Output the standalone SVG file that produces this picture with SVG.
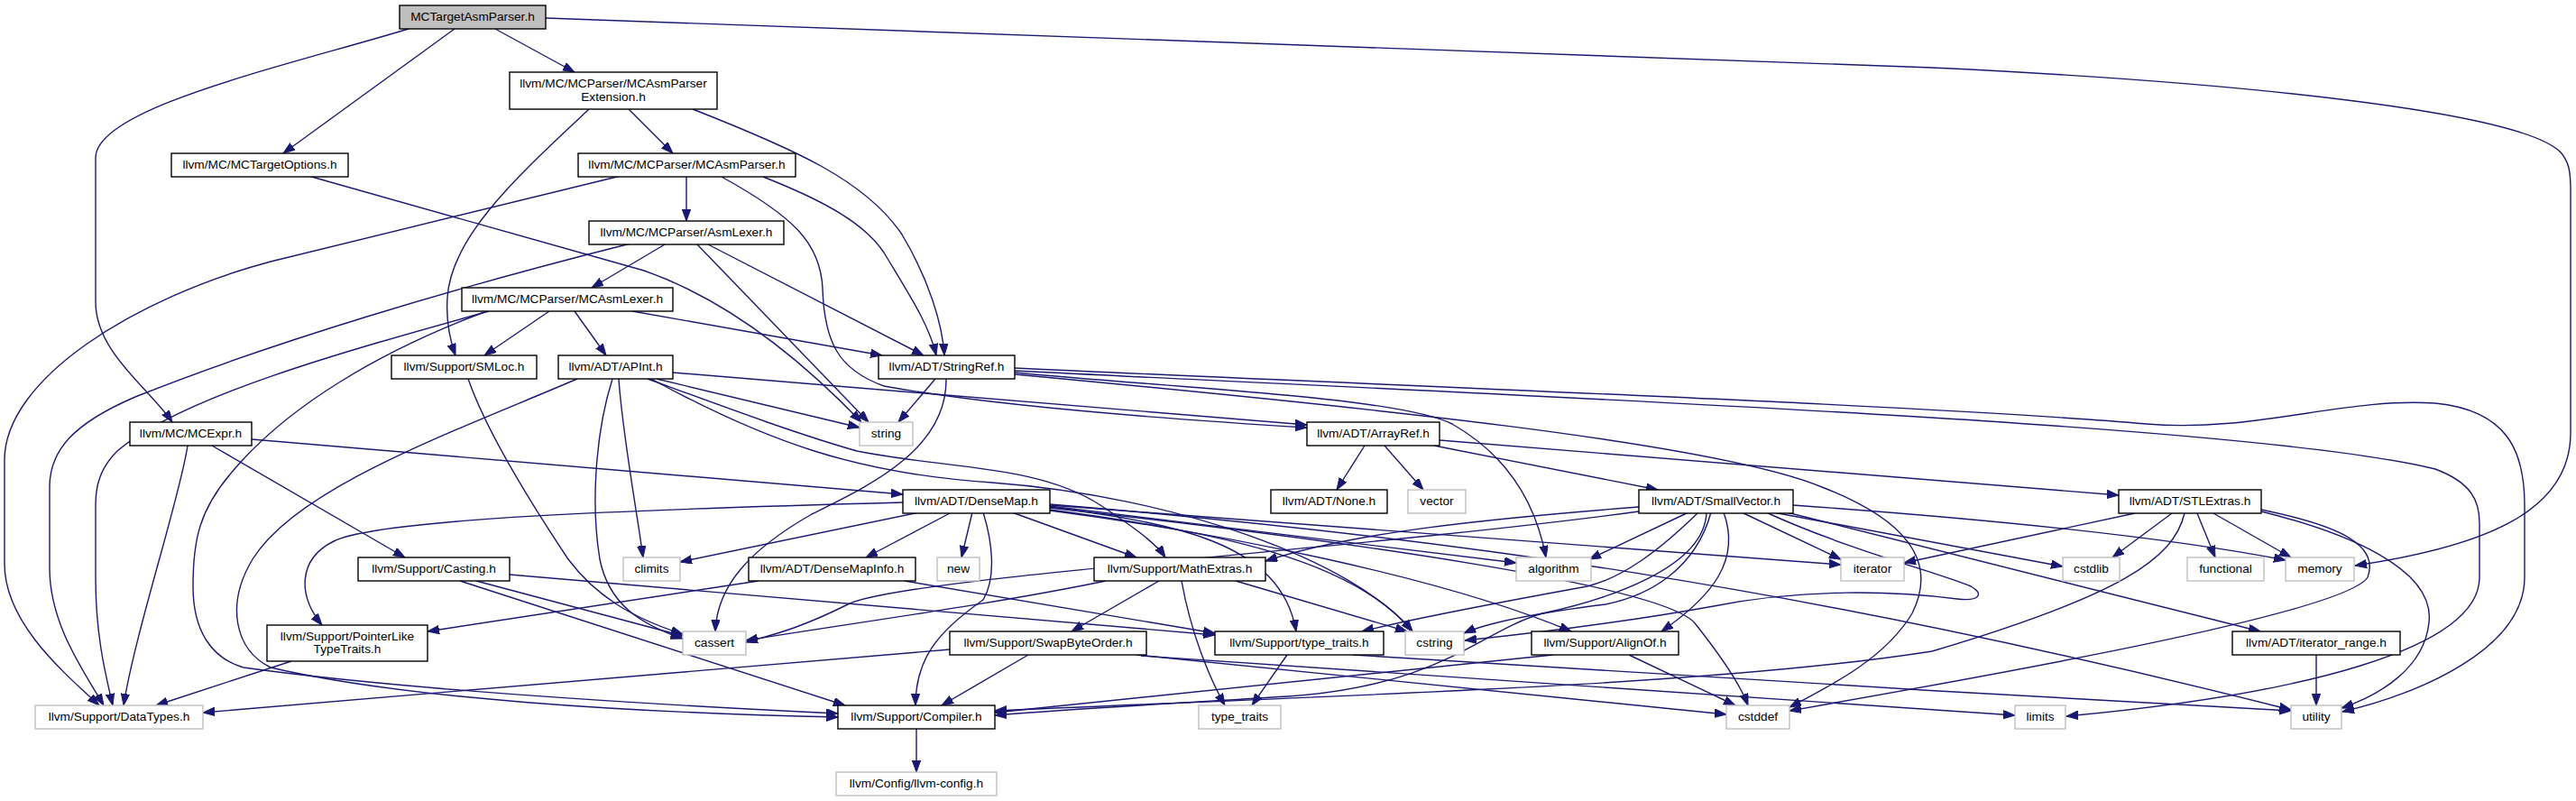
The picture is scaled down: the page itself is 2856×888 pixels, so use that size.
<svg xmlns="http://www.w3.org/2000/svg" width="2856" height="888" viewBox="0 0 2856 888">
<style>
.n rect{fill:#fff;stroke:#000;stroke-width:1.4}
.g rect{fill:#fff;stroke:#bfbfbf;stroke-width:1.4}
.r rect{fill:#bfbfbf;stroke:#000;stroke-width:1.4}
text{font-family:"Liberation Sans",Arial,sans-serif;font-size:13.7px;text-anchor:middle;fill:#000}
#edges path{fill:none;stroke:#191970;stroke-width:1.4;marker-end:url(#a)}
</style>
<defs>
<marker id="a" markerUnits="userSpaceOnUse" markerWidth="14" markerHeight="10" refX="13" refY="4.7" orient="auto">
<path d="M0,0 L13,4.7 L0,9.4 z" fill="#191970" stroke="#191970" stroke-width="1"/>
</marker>
</defs>
<rect width="2856" height="888" fill="#fff"/>
<g id="edges">
<path d="M549,32 L637,80"/>
<path d="M504,32 L314,170"/>
<path d="M453,32 C310,75 106,120 106,175 L106,335 C106,390 165,430 191,468"/>
<path d="M605,20 L2142,75 C2500,92 2800,125 2840,170 C2848,180 2850,190 2850,210 L2850,480 C2850,565 2760,605 2611,627"/>
<path d="M697,121 L746,170"/>
<path d="M653,121 C580,190 500,260 496,330 C494,360 500,380 505,394"/>
<path d="M768,121 C880,165 960,200 1000,260 C1030,310 1045,360 1047,394"/>
<path d="M342,195 L714,300 C800,330 880,390 955,468"/>
<path d="M761,196 L761,245"/>
<path d="M688,195 L300,290 C150,330 5,420 5,510 L5,625 C5,690 70,745 110,782"/>
<path d="M846,196 C920,225 960,250 980,280 C1010,330 1030,360 1038,394"/>
<path d="M800,196 C880,240 910,270 912,320 C914,380 930,410 980,428 C1100,450 1300,465 1449,474"/>
<path d="M737,271 L656,319"/>
<path d="M699,270 C500,320 300,380 150,440 C80,470 55,500 55,540 L55,630 C55,690 90,740 115,782"/>
<path d="M773,271 L963,468"/>
<path d="M785,271 L1024,394"/>
<path d="M609,345 L537,394"/>
<path d="M637,345 L672,394"/>
<path d="M701,345 L978,394"/>
<path d="M542,345 C380,390 200,440 130,500 C110,520 106,540 106,560 L106,640 C106,700 115,740 125,782"/>
<path d="M537,346 C420,390 320,450 260,520 C220,565 214,600 214,650 C214,700 235,730 270,740 C450,765 700,780 929,791"/>
<path d="M519,420 C540,480 590,560 630,620 C660,660 700,685 757,703"/>
<path d="M679,420 C660,480 655,560 665,620 C675,670 710,692 757,708"/>
<path d="M640,420 C500,480 330,540 280,620 C250,670 260,720 300,740 C450,775 700,790 929,795"/>
<path d="M746,413 L1449,471"/>
<path d="M728,420 L953,474"/>
<path d="M686,420 C690,480 705,560 713,618"/>
<path d="M718,420 C800,450 880,480 950,500 C1050,520 1150,515 1220,560 C1250,580 1280,600 1292,618"/>
<path d="M722,420 C850,490 950,525 1100,535 C1300,550 1500,620 1566,700"/>
<path d="M279,487 L1001,548"/>
<path d="M235,494 L449,618"/>
<path d="M208,494 C200,550 150,700 137,782"/>
<path d="M1037,420 L996,468"/>
<path d="M1049,420 C1050,500 960,540 900,570 C830,610 795,650 793,700"/>
<path d="M1125,408 C1600,430 2150,450 2380,470 C2500,480 2600,440 2700,447 C2780,455 2799,500 2799,560 L2799,640 C2799,720 2680,770 2597,789"/>
<path d="M1125,411 C1700,440 2500,470 2700,520 C2740,535 2749,555 2749,580 L2749,640 C2749,720 2550,770 2291,794"/>
<path d="M1125,413 C1300,430 1550,440 1610,470 C1680,510 1705,570 1714,618"/>
<path d="M1125,415 C1500,450 1900,490 2020,540 C2110,575 2150,620 2120,680 C2090,730 2030,760 1984,784"/>
<path d="M1513,494 L1482,543"/>
<path d="M1535,494 L1578,543"/>
<path d="M1590,494 L1838,543"/>
<path d="M1596,488 L2349,549"/>
<path d="M1019,568 L754,623"/>
<path d="M1055,568 L960,618"/>
<path d="M1078,568 L1066,618"/>
<path d="M1090,568 C1100,600 1105,640 1090,665 C1040,700 1015,730 1015,782"/>
<path d="M1122,568 L1260,618"/>
<path d="M1001,557 C700,565 420,575 370,600 C330,620 330,660 357,693"/>
<path d="M1164,562 C1300,580 1420,600 1437,700"/>
<path d="M1164,565 C1350,590 1500,620 1566,700"/>
<path d="M1164,566 C1350,590 1600,640 1742,700"/>
<path d="M1164,561 L1681,624"/>
<path d="M1164,560 L2041,626"/>
<path d="M1164,559 C1600,595 2000,650 2540,787"/>
<path d="M1164,563 C1500,600 1850,650 1880,692 C1910,730 1930,760 1938,782"/>
<path d="M1226,644 C1100,670 950,690 827,710"/>
<path d="M1285,644 L1188,700"/>
<path d="M1310,644 C1320,700 1340,750 1358,782"/>
<path d="M1370,644 L1560,700"/>
<path d="M1053,720 L225,790"/>
<path d="M1140,726 L1044,782"/>
<path d="M1260,726 L1914,792"/>
<path d="M1265,727 L2234,793"/>
<path d="M1427,726 L1388,782"/>
<path d="M1500,726 C1800,745 2200,770 2540,788"/>
<path d="M1722,726 L1103,790"/>
<path d="M1806,726 L1924,782"/>
<path d="M1817,562 C1650,575 1500,590 1403,622"/>
<path d="M1817,567 C1500,610 1000,640 940,670 C880,700 850,705 827,712"/>
<path d="M1872,568 L1762,620"/>
<path d="M1883,568 C1840,610 1800,640 1760,650 C1650,670 1550,690 1510,700"/>
<path d="M1897,568 C1880,630 1830,660 1780,670 C1700,680 1650,690 1623,702"/>
<path d="M1958,568 C2050,610 2150,635 2185,650 C2200,658 2195,667 2170,664 C2100,655 2000,652 1900,672 C1800,690 1700,702 1624,710"/>
<path d="M1892,568 C1890,630 1780,665 1710,680 C1640,700 1600,760 1428,772 C1300,780 1200,785 1103,793"/>
<path d="M1911,568 C1930,620 1900,660 1842,700"/>
<path d="M1931,568 L2041,620"/>
<path d="M1966,568 L2287,628"/>
<path d="M1988,560 C2200,575 2400,595 2534,621"/>
<path d="M1981,568 L2506,700"/>
<path d="M2367,569 L2111,624"/>
<path d="M2408,569 L2342,618"/>
<path d="M2436,569 L2456,618"/>
<path d="M2454,569 L2540,618"/>
<path d="M2422,569 C2410,620 2350,660 2142,722 C1900,760 1500,770 1103,788"/>
<path d="M2507,565 C2580,580 2640,600 2625,640 C2600,680 2200,750 1984,788"/>
<path d="M2507,567 C2600,590 2700,630 2693,690 C2688,740 2640,770 2596,785"/>
<path d="M2568,726 L2568,782"/>
<path d="M1016,808 L1016,856"/>
<path d="M323,733 L173,782"/>
<path d="M841,644 L474,700"/>
<path d="M1003,644 L1347,702"/>
<path d="M565,637 L1347,704"/>
<path d="M528,644 L757,705"/>
<path d="M510,644 L937,782"/>
</g>
<g id="n0" class="r"><rect x="443" y="6" width="162" height="26"/><text x="524" y="23">MCTargetAsmParser.h</text></g>
<g id="n1" class="n"><rect x="565" y="80" width="230" height="41"/><text x="680" y="97">llvm/MC/MCParser/MCAsmParser</text><text x="680" y="112">Extension.h</text></g>
<g id="n2" class="n"><rect x="190" y="170" width="196" height="26"/><text x="288" y="187">llvm/MC/MCTargetOptions.h</text></g>
<g id="n3" class="n"><rect x="641" y="170" width="241" height="26"/><text x="761.5" y="187">llvm/MC/MCParser/MCAsmParser.h</text></g>
<g id="n4" class="n"><rect x="144" y="468" width="135" height="26"/><text x="211.5" y="485">llvm/MC/MCExpr.h</text></g>
<g id="n5" class="n"><rect x="653" y="245" width="216" height="26"/><text x="761" y="262">llvm/MC/MCParser/AsmLexer.h</text></g>
<g id="n6" class="n"><rect x="512" y="319" width="234" height="26"/><text x="629" y="336">llvm/MC/MCParser/MCAsmLexer.h</text></g>
<g id="n7" class="n"><rect x="434" y="394" width="161" height="26"/><text x="514.5" y="411">llvm/Support/SMLoc.h</text></g>
<g id="n8" class="n"><rect x="619" y="394" width="127" height="26"/><text x="682.5" y="411">llvm/ADT/APInt.h</text></g>
<g id="n9" class="n"><rect x="974" y="394" width="151" height="26"/><text x="1049.5" y="411">llvm/ADT/StringRef.h</text></g>
<g id="n10" class="g"><rect x="953" y="468" width="59" height="26"/><text x="982.5" y="485">string</text></g>
<g id="n11" class="n"><rect x="1449" y="468" width="147" height="26"/><text x="1522.5" y="485">llvm/ADT/ArrayRef.h</text></g>
<g id="n12" class="n"><rect x="1409" y="543" width="129" height="26"/><text x="1473.5" y="560">llvm/ADT/None.h</text></g>
<g id="n13" class="g"><rect x="1561" y="543" width="64" height="26"/><text x="1593" y="560">vector</text></g>
<g id="n14" class="n"><rect x="1817" y="543" width="171" height="26"/><text x="1902.5" y="560">llvm/ADT/SmallVector.h</text></g>
<g id="n15" class="n"><rect x="2349" y="543" width="158" height="26"/><text x="2428" y="560">llvm/ADT/STLExtras.h</text></g>
<g id="n16" class="n"><rect x="1001" y="543" width="163" height="26"/><text x="1082.5" y="560">llvm/ADT/DenseMap.h</text></g>
<g id="n17" class="n"><rect x="397" y="618" width="168" height="26"/><text x="481" y="635">llvm/Support/Casting.h</text></g>
<g id="n18" class="g"><rect x="691" y="618" width="63" height="26"/><text x="722.5" y="635">climits</text></g>
<g id="n19" class="n"><rect x="830" y="618" width="185" height="26"/><text x="922.5" y="635">llvm/ADT/DenseMapInfo.h</text></g>
<g id="n20" class="g"><rect x="1039" y="618" width="47" height="26"/><text x="1062.5" y="635">new</text></g>
<g id="n21" class="n"><rect x="1213" y="618" width="190" height="26"/><text x="1308" y="635">llvm/Support/MathExtras.h</text></g>
<g id="n22" class="g"><rect x="1681" y="618" width="83" height="26"/><text x="1722.5" y="635">algorithm</text></g>
<g id="n23" class="g"><rect x="2041" y="618" width="70" height="26"/><text x="2076" y="635">iterator</text></g>
<g id="n24" class="g"><rect x="2287" y="618" width="63" height="26"/><text x="2318.5" y="635">cstdlib</text></g>
<g id="n25" class="g"><rect x="2425" y="618" width="85" height="26"/><text x="2467.5" y="635">functional</text></g>
<g id="n26" class="g"><rect x="2534" y="618" width="76" height="26"/><text x="2572" y="635">memory</text></g>
<g id="n27" class="n"><rect x="296" y="693" width="178" height="40"/><text x="385" y="710">llvm/Support/PointerLike</text><text x="385" y="724">TypeTraits.h</text></g>
<g id="n28" class="g"><rect x="757" y="700" width="70" height="26"/><text x="792" y="717">cassert</text></g>
<g id="n29" class="n"><rect x="1053" y="700" width="218" height="26"/><text x="1162" y="717">llvm/Support/SwapByteOrder.h</text></g>
<g id="n30" class="n"><rect x="1347" y="700" width="187" height="26"/><text x="1440.5" y="717">llvm/Support/type_traits.h</text></g>
<g id="n31" class="g"><rect x="1558" y="700" width="65" height="26"/><text x="1590.5" y="717">cstring</text></g>
<g id="n32" class="n"><rect x="1698" y="700" width="163" height="26"/><text x="1779.5" y="717">llvm/Support/AlignOf.h</text></g>
<g id="n33" class="n"><rect x="2475" y="700" width="186" height="26"/><text x="2568" y="717">llvm/ADT/iterator_range.h</text></g>
<g id="n34" class="g"><rect x="39" y="782" width="186" height="26"/><text x="132" y="799">llvm/Support/DataTypes.h</text></g>
<g id="n35" class="n"><rect x="929" y="782" width="174" height="26"/><text x="1016" y="799">llvm/Support/Compiler.h</text></g>
<g id="n36" class="g"><rect x="1329" y="782" width="91" height="26"/><text x="1374.5" y="799">type_traits</text></g>
<g id="n37" class="g"><rect x="1914" y="782" width="70" height="26"/><text x="1949" y="799">cstddef</text></g>
<g id="n38" class="g"><rect x="2234" y="782" width="56" height="26"/><text x="2262" y="799">limits</text></g>
<g id="n39" class="g"><rect x="2540" y="782" width="56" height="26"/><text x="2568" y="799">utility</text></g>
<g id="n40" class="g"><rect x="927" y="856" width="178" height="26"/><text x="1016" y="873">llvm/Config/llvm-config.h</text></g>
</svg>
